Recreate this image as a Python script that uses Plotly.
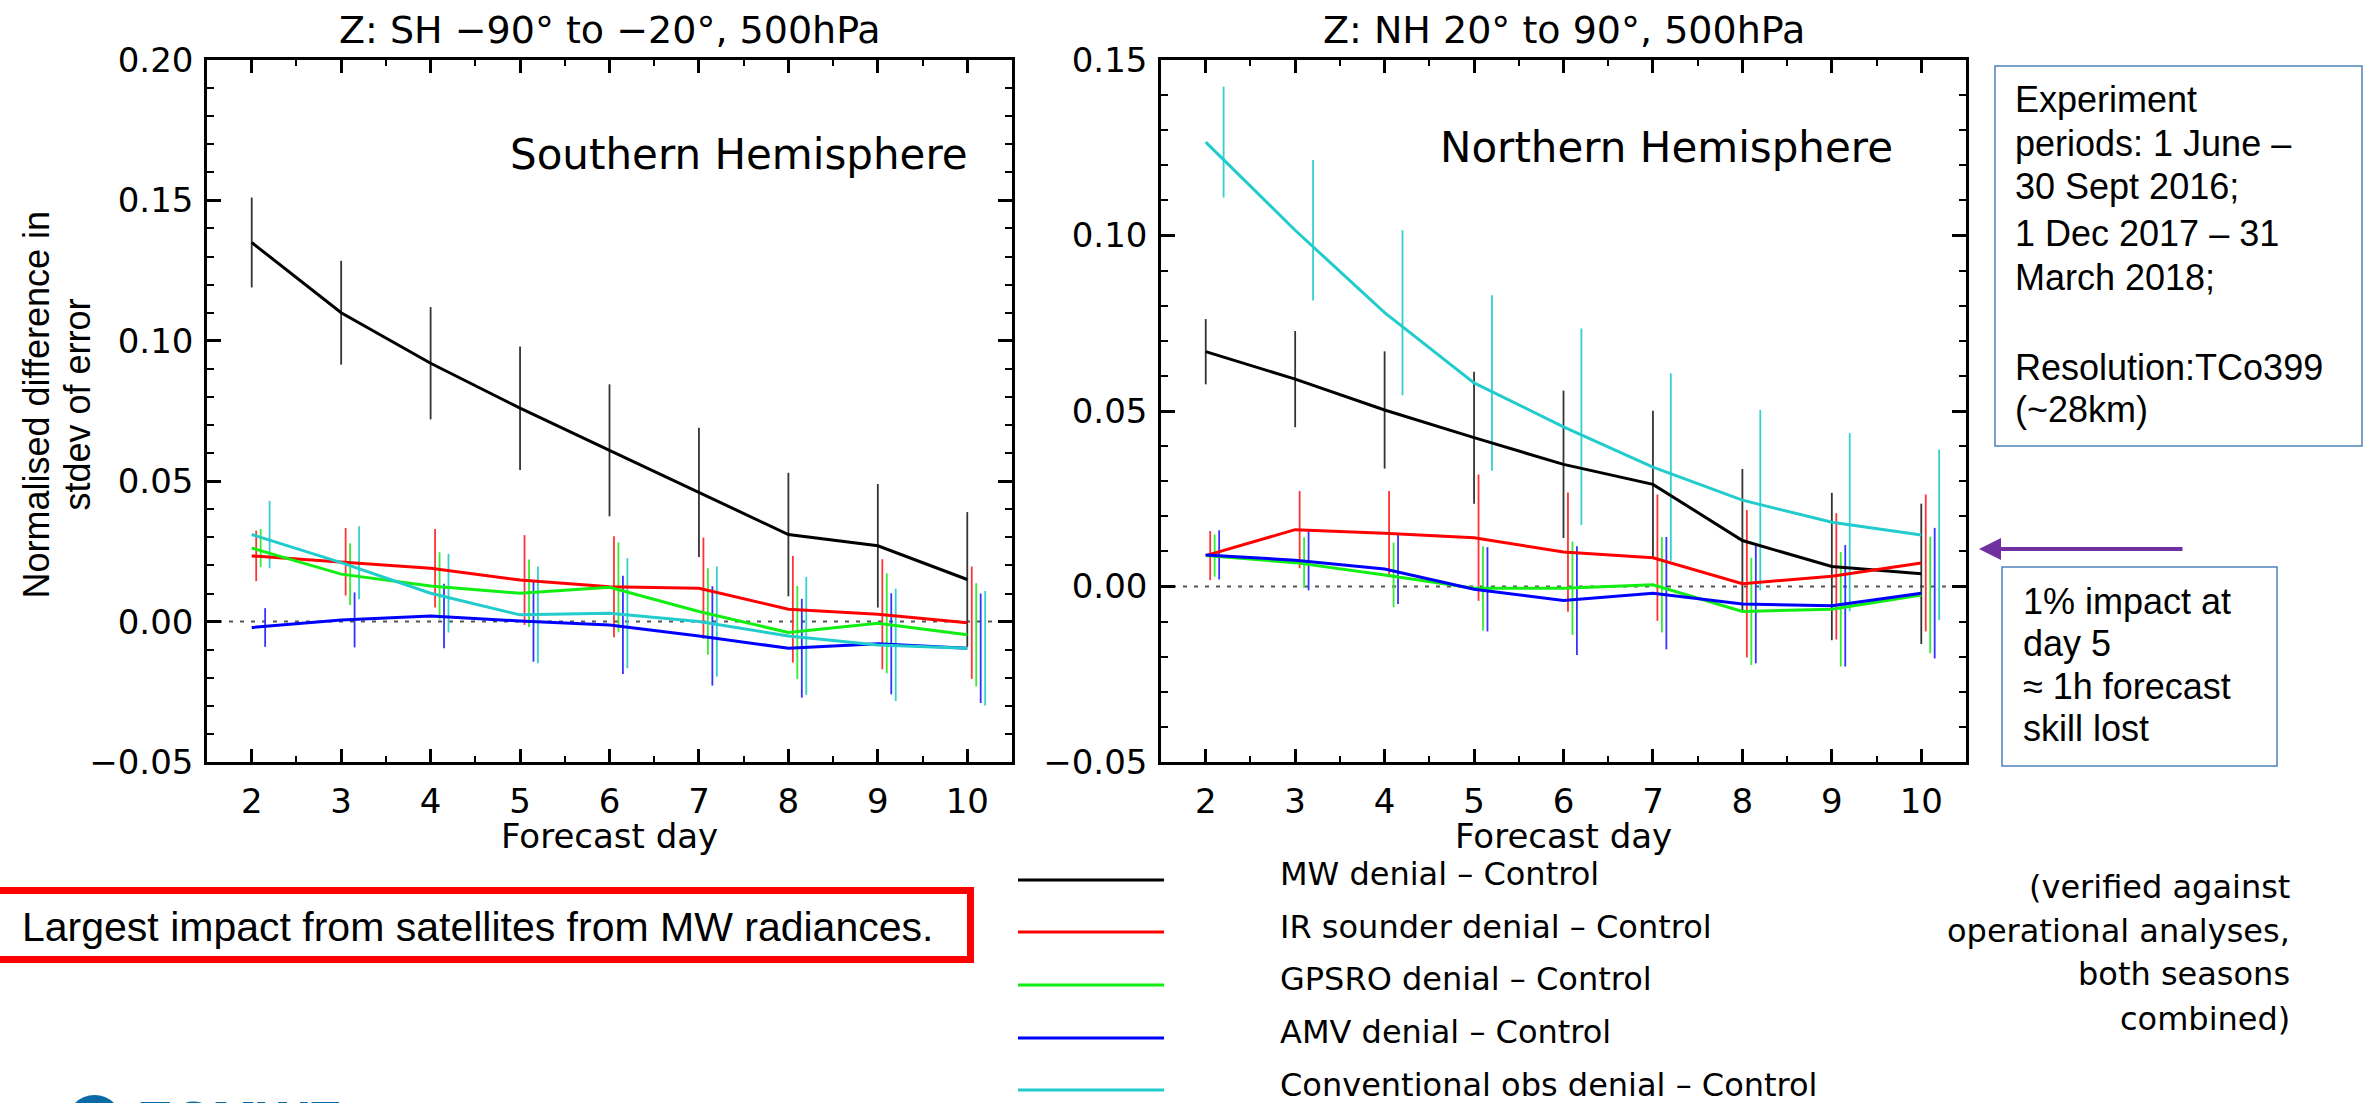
import plotly.graph_objects as go

# ---------------- data ----------------
days = [2, 3, 4, 5, 6, 7, 8, 9, 10]

series_names = ["MW denial – Control", "IR sounder denial – Control", "GPSRO denial – Control",
                "AMV denial – Control", "Conventional obs denial – Control"]
series_colors = ["#000000", "#FF0000", "#11EE11", "#0000FF", "#22CCCC"]
bar_colors = ["#333333", "#FF3333", "#33EE33", "#3333FF", "#33D0D0"]

# Southern Hemisphere
mw_sh = [0.135, 0.110, 0.092, 0.076, 0.061, 0.046, 0.031, 0.027, 0.015]
mw_sh_err = [0.016, 0.0185, 0.020, 0.022, 0.0235, 0.023, 0.022, 0.022, 0.024]
ir_sh = [0.0234, 0.0213, 0.019, 0.0148, 0.0124, 0.0119, 0.0044, 0.0026, -0.0004]
ir_sh_err = [0.009, 0.012, 0.014, 0.016, 0.018, 0.018, 0.019, 0.0196, 0.020]
gps_sh = [0.0262, 0.0169, 0.0127, 0.0101, 0.0122, 0.0036, -0.0039, -0.0006, -0.0047]
gps_sh_err = [0.0068, 0.011, 0.012, 0.012, 0.016, 0.0154, 0.0166, 0.0178, 0.0184]
amv_sh = [-0.0021, 0.0006, 0.0020, 0.0002, -0.0012, -0.0051, -0.0095, -0.0079, -0.0095]
amv_sh_err = [0.0069, 0.0098, 0.0115, 0.0145, 0.0175, 0.0177, 0.0176, 0.018, 0.0195]
conv_sh = [0.031, 0.021, 0.0101, 0.0024, 0.003, 0.0, -0.0051, -0.0083, -0.0095]
conv_sh_err = [0.012, 0.013, 0.014, 0.0172, 0.0196, 0.0196, 0.021, 0.020, 0.0204]

# Northern Hemisphere
mw_nh = [0.0669, 0.0591, 0.0503, 0.0424, 0.0348, 0.0291, 0.0131, 0.0057, 0.0036]
mw_nh_err = [0.0093, 0.0137, 0.0167, 0.0188, 0.021, 0.021, 0.0204, 0.021, 0.020]
ir_nh = [0.0088, 0.0162, 0.0152, 0.0139, 0.0098, 0.0082, 0.0008, 0.0029, 0.0067]
ir_nh_err = [0.007, 0.011, 0.012, 0.018, 0.017, 0.018, 0.021, 0.018, 0.0195]
gps_nh = [0.0088, 0.0068, 0.0033, -0.0005, -0.0005, 0.0005, -0.0071, -0.0065, -0.0024]
gps_nh_err = [0.006, 0.0072, 0.0092, 0.012, 0.0133, 0.0136, 0.0153, 0.0163, 0.0166]
amv_nh = [0.0090, 0.0075, 0.0050, -0.0008, -0.0040, -0.0019, -0.0050, -0.0055, -0.0019]
amv_nh_err = [0.007, 0.0086, 0.010, 0.012, 0.0155, 0.016, 0.0169, 0.0173, 0.0186]
conv_nh = [0.1266, 0.1015, 0.078, 0.058, 0.0455, 0.034, 0.0246, 0.0183, 0.0147]
conv_nh_err = [0.0158, 0.020, 0.0235, 0.025, 0.028, 0.0267, 0.0257, 0.0254, 0.0243]

bar_offsets = [0.0, 0.05, 0.10, 0.15, 0.20]

panel_titles = ["Z: SH −90° to −20°, 500hPa", "Z: NH 20° to 90°, 500hPa"]
panel_labels = ["Southern Hemisphere", "Northern Hemisphere"]
x_title = "Forecast day"
y_title_lines = ["Normalised difference in", "stdev of error"]

info_lines = ["Experiment", "periods: 1 June –", "30 Sept 2016;", "1 Dec 2017 – 31",
              "March 2018;", "Resolution:TCo399", "(~28km)"]
impact_lines = ["1% impact at", "day 5", "≈ 1h forecast", "skill lost"]
note_lines = ["(verified against", "operational analyses,", "both seasons", "combined)"]
headline = "Largest impact from satellites from MW radiances."

# ---------------- layout helpers ----------------
W, H = 2364, 1103


def px(x):
    return x / W


def py(y):
    return 1 - y / H


IDL_FONT = "DejaVu Sans"
SLIDE_FONT = "Liberation Sans, Arial, sans-serif"

fig = go.Figure()

panels = [
    ("x", "y", [mw_sh, ir_sh, gps_sh, amv_sh, conv_sh],
     [mw_sh_err, ir_sh_err, gps_sh_err, amv_sh_err, conv_sh_err]),
    ("x2", "y2", [mw_nh, ir_nh, gps_nh, amv_nh, conv_nh],
     [mw_nh_err, ir_nh_err, gps_nh_err, amv_nh_err, conv_nh_err]),
]

for xa, ya, vals_list, errs_list in panels:
    for i, (vals, errs) in enumerate(zip(vals_list, errs_list)):
        fig.add_trace(go.Scatter(
            x=[d + bar_offsets[i] for d in days], y=vals, mode="markers",
            marker=dict(size=1, color=bar_colors[i], opacity=0),
            error_y=dict(type="data", array=errs, visible=True, thickness=1.8,
                         width=0, color=bar_colors[i]),
            xaxis=xa, yaxis=ya, showlegend=False, hoverinfo="skip"))
    for i, vals in enumerate(vals_list):
        fig.add_trace(go.Scatter(
            x=days, y=vals, mode="lines", name=series_names[i],
            line=dict(color=series_colors[i], width=3),
            xaxis=xa, yaxis=ya, showlegend=False, hoverinfo="skip"))

xdom_left = [px(207), px(1012)]
xdom_right = [px(1161), px(1966)]
ydom = [py(762), py(60)]

common_x = dict(
    range=[1.5, 10.5], tickmode="linear", tick0=2, dtick=1,
    ticks="inside", ticklen=13, tickwidth=2.5, tickcolor="black",
    showline=True, linewidth=2.5, linecolor="black", mirror="allticks",
    showgrid=False, zeroline=False, ticklabelstandoff=7, automargin=False,
    tickfont=dict(family=IDL_FONT, size=34, color="black"),
    minor=dict(tickmode="linear", tick0=1.5, dtick=0.5, ticks="inside", ticklen=6,
               tickwidth=2, tickcolor="black", showgrid=False),
)
common_y = dict(
    tickmode="linear", tick0=0, dtick=0.05, tickformat=".2f",
    ticks="inside", ticklen=14, tickwidth=2.5, tickcolor="black",
    showline=True, linewidth=2.5, linecolor="black", mirror="allticks",
    showgrid=False, zeroline=False, ticklabelstandoff=4, automargin=False,
    tickfont=dict(family=IDL_FONT, size=34, color="black"),
    minor=dict(tickmode="linear", tick0=0, dtick=0.01, ticks="inside", ticklen=7,
               tickwidth=2, tickcolor="black", showgrid=False),
)

fig.update_layout(
    width=W, height=H, autosize=False,
    margin=dict(l=0, r=0, t=0, b=0, pad=0, autoexpand=False),
    paper_bgcolor="white", plot_bgcolor="white",
    showlegend=False,
    xaxis=dict(domain=xdom_left, anchor="y", **common_x),
    yaxis=dict(domain=ydom, anchor="x", range=[-0.05, 0.20], **common_y),
    xaxis2=dict(domain=xdom_right, anchor="y2", **common_x),
    yaxis2=dict(domain=ydom, anchor="x2", range=[-0.05, 0.15], **common_y),
)

shapes = []
# zero dotted reference lines
for xr, yr in [("x domain", "y"), ("x2 domain", "y2")]:
    shapes.append(dict(type="line", xref=xr, yref=yr, x0=0, x1=1, y0=0, y1=0,
                       line=dict(color="#555555", width=2, dash="4px,7px"), layer="below"))

annotations = []
# panel titles
for cx, t in zip([609.5, 1563.5], panel_titles):
    annotations.append(dict(text=t, x=px(cx), y=py(30), xref="paper", yref="paper",
                            xanchor="center", yanchor="middle", showarrow=False,
                            font=dict(family=IDL_FONT, size=38, color="black")))
# hemisphere labels
for lx, ly, t in [(508, 154, panel_labels[0]), (1438, 147, panel_labels[1])]:
    annotations.append(dict(text=t, x=px(lx), y=py(ly), xref="paper", yref="paper",
                            xanchor="left", yanchor="middle", showarrow=False,
                            font=dict(family=IDL_FONT, size=42, color="black")))
# x axis titles
for cx in [609.5, 1563.5]:
    annotations.append(dict(text=x_title, x=px(cx), y=py(836), xref="paper", yref="paper",
                            xanchor="center", yanchor="middle", showarrow=False, borderpad=0,
                            font=dict(family=IDL_FONT, size=34, color="black")))
# y axis title (two rotated lines)
for cx, t in zip([35.5, 76.5], y_title_lines):
    annotations.append(dict(text=t, x=px(cx), y=py(405), xref="paper", yref="paper",
                            xanchor="center", yanchor="middle", showarrow=False, textangle=-90,
                            font=dict(family=SLIDE_FONT, size=36, color="black")))

# info box
shapes.append(dict(type="rect", xref="paper", yref="paper", x0=px(1995), x1=px(2362),
                   y0=py(446), y1=py(66), line=dict(color="#4F81BD", width=1.5)))
for cy, t in zip([99, 143.5, 187, 233, 277.5, 367, 409.5], info_lines):
    annotations.append(dict(text=t, x=px(2013), y=py(cy), xref="paper", yref="paper",
                            xanchor="left", yanchor="middle", showarrow=False,
                            font=dict(family=SLIDE_FONT, size=36, color="black")))

# arrow
annotations.append(dict(text="", x=px(1979), y=py(549), xref="paper", yref="paper",
                        ax=205, ay=0, axref="pixel", ayref="pixel", showarrow=True,
                        arrowhead=2, arrowsize=1.1, arrowwidth=4, arrowcolor="#7030A0",
                        standoff=0))

# impact box
shapes.append(dict(type="rect", xref="paper", yref="paper", x0=px(2002), x1=px(2277),
                   y0=py(766), y1=py(567), line=dict(color="#4F81BD", width=1.5)))
for cy, t in zip([601.5, 643.5, 686.5, 728.5], impact_lines):
    annotations.append(dict(text=t, x=px(2021), y=py(cy), xref="paper", yref="paper",
                            xanchor="left", yanchor="middle", showarrow=False,
                            font=dict(family=SLIDE_FONT, size=36, color="black")))

# red headline box
shapes.append(dict(type="rect", xref="paper", yref="paper", x0=px(-10), x1=px(970.5),
                   y0=py(959.5), y1=py(890.5), line=dict(color="#FF0000", width=7)))
annotations.append(dict(text=headline, x=px(478), y=py(926.5), xref="paper", yref="paper",
                        xanchor="center", yanchor="middle", showarrow=False,
                        font=dict(family=SLIDE_FONT, size=41, color="black")))

# legend
legend_line_y = [880, 932, 985, 1038, 1090]
legend_text_y = [874, 927, 979, 1032, 1085]
for i in range(5):
    shapes.append(dict(type="line", xref="paper", yref="paper", x0=px(1018), x1=px(1164),
                       y0=py(legend_line_y[i]), y1=py(legend_line_y[i]),
                       line=dict(color=series_colors[i], width=3)))
    annotations.append(dict(text=series_names[i], x=px(1279), y=py(legend_text_y[i]),
                            xref="paper", yref="paper", xanchor="left", yanchor="middle",
                            showarrow=False, borderpad=0,
                            font=dict(family=IDL_FONT, size=32, color="black")))

# verification note
for cy, t in zip([887, 931, 974, 1019], note_lines):
    annotations.append(dict(text=t, x=px(2292), y=py(cy), xref="paper", yref="paper",
                            xanchor="right", yanchor="middle", showarrow=False, align="right",
                            font=dict(family=IDL_FONT, size=32, color="black")))

# ECMWF logo (cut off at the bottom edge, as in the reference)
shapes.append(dict(type="circle", xref="paper", yref="paper", x0=px(67), x1=px(122),
                   y0=py(1150), y1=py(1095), fillcolor="#0A6AA6", line=dict(width=0)))
annotations.append(dict(text="<b>ECMWF</b>", x=px(135), y=py(1088), xref="paper", yref="paper",
                        xanchor="left", yanchor="top", showarrow=False,
                        font=dict(family=SLIDE_FONT, size=54, color="#0A6AA6")))

fig.update_layout(shapes=shapes, annotations=annotations)

fig.write_html("out.html")
